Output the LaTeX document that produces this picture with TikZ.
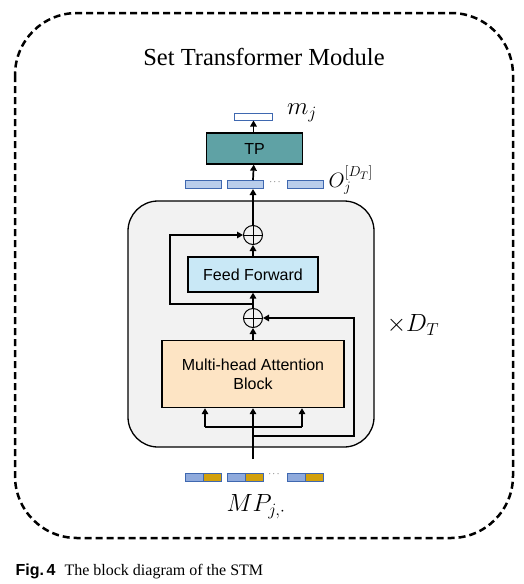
\documentclass[tikz,border=0pt]{standalone}
\usepackage{fontspec}
\setmainfont{Liberation Serif}
\setsansfont{Liberation Sans}
\usetikzlibrary{arrows.meta, calc, positioning}
\definecolor{stmGrey}{HTML}{F2F2F2}
\definecolor{tpTeal}{HTML}{5FA2A5}
\definecolor{ffBlue}{HTML}{C9E8F6}
\definecolor{mhaPeach}{HTML}{FDE4C4}
\definecolor{vecFill}{HTML}{B9CDEB}
\definecolor{vecEdge}{HTML}{3F68B0}
\definecolor{mpBlue}{HTML}{8FAADC}
\definecolor{mpGold}{HTML}{D2A00C}

\begin{document}
\begin{tikzpicture}[x=1pt, y=-1pt,
  blk/.style={draw, line width=1.3pt, inner sep=0pt, align=center,
              font=\sffamily\fontsize{16}{19}\selectfont},
  vec/.style={draw=vecEdge, line width=1pt, fill=vecFill, inner sep=0pt,
              minimum width=36pt, minimum height=8pt},
  mpvec/.style={vec, fill=mpGold, path picture={
      \fill[mpBlue] (path picture bounding box.south west)
        rectangle (path picture bounding box.north);
      \draw[vecEdge, line width=1pt] (path picture bounding box.south)
        -- (path picture bounding box.north);}},
  addop/.style={draw, circle, line width=1pt, minimum size=19pt, inner sep=0pt,
      path picture={
      \draw[line width=0.8pt] (path picture bounding box.north)
        -- (path picture bounding box.south)
        (path picture bounding box.west) -- (path picture bounding box.east);}},
  flow/.style={-{Triangle[length=6pt,width=6.5pt]}, line width=1.7pt},
  wire/.style={line width=1.7pt}]
  \useasboundingbox (0,0) rectangle (524,584);
  % outer module
  \draw[line width=2.5pt, dash pattern=on 7pt off 4pt, rounded corners=62pt]
    (15,13) rectangle (513,538);
  \node[font=\fontsize{24.5}{28}\selectfont] (title) at (264,57) {Set Transformer Module};
  % repeated layer
  \node[draw, fill=stmGrey, line width=1.3pt, rounded corners=30pt,
        minimum width=246pt, minimum height=246pt] (layer) at (251,324) {};
  \node[font=\fontsize{24}{28}\selectfont] (rep) at (413,325) {$\times D_T$};
  \node[blk, fill=mhaPeach, minimum width=182pt, minimum height=67pt]
    (mha) at (253,374) {Multi-head Attention\\Block};
  \node[addop] (add2) at (253,318) {};
  \node[blk, fill=ffBlue, minimum width=130pt, minimum height=35pt]
    (ff) at (253,274.5) {Feed Forward};
  \node[addop] (add1) at (253,235) {};
  % output vectors
  \node[vec] (o1) at (203,184.5) {};
  \node[vec] (o2) at (245,184.5) {};
  \node[font=\small] (odots) at (275,182) {$\cdots$};
  \node[vec] (o3) at (305,184.5) {};
  \node[font=\fontsize{21}{25}\selectfont, anchor=west] (olab) at (325,180)
    {$O_j^{[D_T]}$};
  \node[blk, fill=tpTeal, minimum width=96pt, minimum height=31pt]
    (tp) at (254.5,148.5) {TP};
  \node[vec, fill=white, minimum width=38pt, minimum height=7pt] (mj) at (253.5,116.5) {};
  \node[font=\fontsize{25}{29}\selectfont] (mjlab) at (302,113) {$m_j$};
  % input vectors
  \node[mpvec] (i1) at (203,477) {};
  \node[mpvec] (i2) at (245,477) {};
  \node[font=\small] (idots) at (274,474) {$\cdots$};
  \node[mpvec] (i3) at (305,477) {};
  \node[font=\fontsize{23}{27}\selectfont] (mplab) at (256,507) {$MP_{j,\cdot}$};
  % connectors
  \coordinate (in) at (253,459);
  \coordinate (brL) at (205,427);
  \coordinate (brR) at (302,427);
  \coordinate (res1) at (354,436);
  \coordinate (tap2) at (253,304);
  \coordinate (res2) at (170,304);
  \draw[flow] (in) -- (mha);
  \draw[wire] (brL) -- (brR);
  \draw[flow] (brL) -- (brL |- mha.south);
  \draw[flow] (brR) -- (brR |- mha.south);
  \draw[flow] (in |- res1) -- (res1) |- (add2);
  \draw[flow] (mha) -- (add2);
  \draw[flow] (add2) -- (ff);
  \draw[flow] (tap2) -- (res2) |- (add1);
  \draw[flow] (ff) -- (add1);
  \draw[flow] (add1) -- (add1 |- o2.south);
  \draw[flow] (add1 |- o2.north) -- (tp);
  \draw[flow] (tp.north -| mj) -- (mj);
  % caption
  \node[anchor=west, font=\fontsize{16}{19}\selectfont] (cap) at (12,571)
    {{\sffamily\bfseries Fig.\,4}\hspace{9pt}The block diagram of the STM};
\end{tikzpicture}
\end{document}
